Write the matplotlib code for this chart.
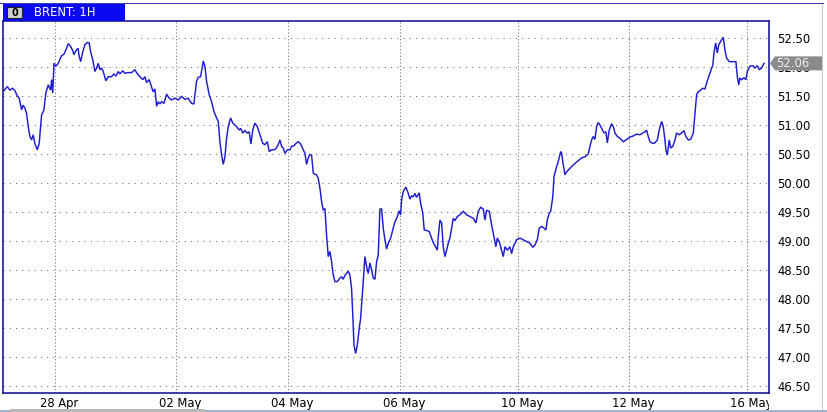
import matplotlib
matplotlib.use("Agg")
import matplotlib.pyplot as plt
from matplotlib.patches import Rectangle, Polygon
from matplotlib.transforms import ScaledTranslation, Bbox

# ---- data ----
hours = [0.0, 1.4, 2.5, 3.7, 4.6, 5.6, 6.4, 7.4, 8.1, 8.8, 9.5, 10.2, 10.9, 11.6, 12.3, 13.0, 14.0, 14.8,
         15.4, 15.8, 16.8, 17.6, 18.6, 19.6, 20.0, 20.5, 21.0, 21.8, 22.8, 23.5, 24.2, 25.2, 26.0, 27.0,
         28.0, 28.9, 29.4, 30.2, 31.1, 31.6, 32.2, 33.1, 34.0, 35.0, 35.8, 36.4, 37.3, 38.2, 38.9, 39.6,
         40.3, 41.0, 41.7, 42.8, 43.8, 45.2, 46.2, 47.0, 48.0, 48.7, 49.9, 50.8, 52.2, 53.6, 55.0, 56.0,
         57.1, 58.3, 59.2, 59.9, 61.0, 62.0, 62.7, 63.4, 64.1, 64.8, 65.5, 66.2, 67.2, 68.3, 69.4, 70.4,
         71.8, 73.2, 74.6, 76.0, 77.4, 78.8, 79.8,
         80.2, 80.9, 81.6, 82.6, 83.7, 84.4, 85.1, 86.2, 87.2, 88.2, 89.3, 90.0, 90.7, 91.4, 92.1, 92.8,
         93.5, 94.2, 95.2, 96.1, 97.0, 97.7, 98.8, 99.4, 100.3, 101.2, 102.2, 103.0, 103.7, 104.5, 105.4,
         106.4, 107.5, 108.7, 109.6, 110.6, 111.4, 112.4, 113.4, 114.2, 115.2, 115.9, 116.6, 117.3, 118.0,
         119.0, 120.1, 120.8, 121.8, 122.6, 123.6, 124.6, 125.7, 126.4, 127.1, 127.8, 128.5, 129.2, 129.9,
         130.6, 131.3, 132.0, 132.7, 133.4, 134.1, 134.8, 135.5, 136.2, 136.9, 137.6, 138.3, 139.0, 140.0,
         141.1, 141.8, 142.5, 143.2, 143.9, 144.6, 145.3, 146.0, 146.5, 147.0, 147.7, 148.4, 149.2, 149.8,
         150.4, 150.9, 151.6, 152.3, 153.0, 153.7, 154.4, 155.1, 155.8, 156.5, 157.2, 157.9,
         158.6, 159.3, 160.0, 160.7, 161.4, 162.4, 163.3, 164.2, 165.2, 166.0, 166.6, 167.0, 167.7, 168.8,
         169.8, 170.5, 171.2, 171.9, 172.6, 173.3, 174.4, 175.0, 175.9, 176.5, 177.5, 178.6, 179.6, 180.3,
         181.4, 182.0, 182.4, 183.1, 183.8, 184.5, 185.2, 185.9, 186.6, 187.3, 188.0, 188.7, 189.4, 190.4,
         191.5, 192.9, 194.3, 195.7, 197.1, 198.2, 199.2, 200.2, 201.3, 202.0, 202.7, 203.8, 204.8, 205.5,
         206.6, 207.2, 208.0, 208.6, 209.7, 210.4, 211.4, 212.5, 213.2, 213.9, 215.3, 216.7, 218.1, 219.5,
         220.9, 222.1, 223.0, 224.0, 224.8, 225.8, 226.8, 227.6, 228.2, 229.0, 229.6, 230.5, 231.0, 232.1,
         232.8, 233.8, 234.2, 234.9, 235.6, 236.3, 237.7, 239.1, 240.5, 242.6, 244.0, 245.4, 246.1, 246.8,
         247.5, 248.2, 248.9, 249.6, 250.3, 251.0, 252.0, 252.8, 253.4, 254.2, 255.2, 255.9, 256.6, 257.6,
         258.7, 260.1, 261.5, 262.9, 264.3, 265.7, 267.1, 268.3, 269.2, 269.9, 270.6, 271.3, 272.5, 273.4,
         274.4, 275.2, 276.2, 276.9, 277.6, 278.0, 278.6, 279.4, 280.0, 280.9, 281.8, 282.5, 283.6, 284.6,
         285.6, 286.4, 287.4, 288.4, 289.5, 290.2, 290.9, 291.6, 292.3, 293.5, 294.4, 295.1, 295.8, 296.5,
         297.7, 298.2, 298.9, 299.6, 300.2, 301.0, 302.1, 302.8, 303.5, 304.6, 306.1, 307.4, 308.0, 308.6,
         309.1, 309.8, 310.8, 311.6, 312.2, 313.3, 314.5, 315.4, 316.4, 317.2, 318.2, 319.2]

prices = [51.59, 51.66, 51.60, 51.63, 51.59, 51.50, 51.46, 51.26, 51.34, 51.29, 51.20, 50.97, 50.80, 50.74,
          50.83, 50.68, 50.57, 50.68, 50.97, 51.17, 51.26, 51.55, 51.69, 51.60, 51.78, 51.55, 52.06, 52.01,
          52.06, 52.13, 52.19, 52.22, 52.29, 52.40, 52.35, 52.28, 52.21, 52.28, 52.32, 52.18, 52.09, 52.26,
          52.38, 52.42, 52.41, 52.26, 52.12, 51.92, 51.98, 52.06, 51.95, 51.98, 51.92, 51.76, 51.83, 51.83,
          51.88, 51.84, 51.92, 51.88, 51.93, 51.89, 51.90, 51.90, 51.95, 51.88, 51.83, 51.78, 51.83, 51.73,
          51.78, 51.65, 51.57, 51.62, 51.32, 51.40, 51.36, 51.40, 51.37, 51.53, 51.46, 51.43, 51.46, 51.43,
          51.49, 51.44, 51.46, 51.37, 51.36,
          51.52, 51.75, 51.82, 51.83, 52.10, 52.01, 51.75, 51.52, 51.40, 51.23, 51.12, 51.06, 50.71, 50.48,
          50.32, 50.45, 50.77, 50.97, 51.12, 51.03, 51.00, 50.97, 50.91, 50.94, 50.86, 50.90, 50.86, 50.88,
          50.67, 50.91, 51.03, 50.97, 50.83, 50.68, 50.66, 50.71, 50.54, 50.57, 50.57, 50.59, 50.66, 50.74,
          50.63, 50.60, 50.51, 50.57, 50.57, 50.63, 50.64, 50.68, 50.71, 50.67, 50.57, 50.51, 50.32, 50.43,
          50.49, 50.48, 50.17, 50.15, 50.14, 50.08, 49.91, 49.68, 49.53, 49.56, 49.10, 48.73, 48.82, 48.64,
          48.41, 48.30, 48.30, 48.36, 48.38, 48.34, 48.41, 48.44, 48.48, 48.41, 48.18, 47.72, 47.21, 47.06,
          47.21, 47.49, 47.67, 48.01, 48.30, 48.73, 48.56, 48.44, 48.62, 48.50, 48.36, 48.34, 48.64, 48.76,
          49.55,
          49.55, 49.22, 49.02, 48.86, 48.96, 49.05, 49.19, 49.33, 49.42, 49.52, 49.45, 49.71, 49.85, 49.93,
          49.82, 49.72, 49.78, 49.76, 49.82, 49.75, 49.83, 49.65, 49.48, 49.19, 49.18, 49.16, 49.05, 48.97,
          48.89, 48.84, 49.07, 49.36, 49.31, 48.90, 48.73, 48.84, 48.96, 49.05, 49.22, 49.39, 49.35, 49.42,
          49.45, 49.51, 49.45, 49.42, 49.39, 49.31, 49.51, 49.58, 49.55, 49.36, 49.53, 49.51, 49.28, 49.13,
          48.90, 49.05, 48.99, 48.90, 48.73, 48.90, 48.84, 48.90, 48.78, 48.90, 49.02, 49.05, 49.02, 48.99,
          48.96, 48.89, 48.93, 49.02, 49.22, 49.25, 49.22, 49.19, 49.36, 49.48, 49.51, 49.76, 50.11, 50.28,
          50.37, 50.54, 50.51, 50.31, 50.14, 50.19, 50.25, 50.31, 50.36, 50.43, 50.45, 50.50, 50.63, 50.74,
          50.80, 50.75, 50.97, 51.04, 51.00, 50.94, 50.86, 50.88, 50.69, 50.91, 51.02, 50.97, 50.86, 50.80,
          50.77, 50.71, 50.75, 50.79, 50.81, 50.84, 50.83, 50.86, 50.88, 50.91, 50.80, 50.71, 50.68, 50.69,
          50.74, 50.91, 51.06, 50.97, 50.74, 50.57, 50.48, 50.74, 50.60, 50.63, 50.74, 50.86, 50.83, 50.86,
          50.90, 50.80, 50.74, 50.75, 50.86, 51.20, 51.52, 51.57, 51.59, 51.63, 51.62, 51.72, 51.81, 51.89,
          52.03, 52.24, 52.41, 52.24, 52.38, 52.44, 52.51, 52.29, 52.15, 52.09, 52.09, 52.09, 51.83, 51.69,
          51.81, 51.78, 51.81, 51.78, 51.92, 52.01, 52.02, 51.98, 52.02, 51.95, 51.98, 52.06]

tick_hours = [21.4, 72.2, 119.3, 166.3, 215.9, 262.5, 312.1]
tick_labels = ["28 Apr", "02 May", "04 May", "06 May", "10 May", "12 May", "16 May"]
price_ticks = [46.5, 47.0, 47.5, 48.0, 48.5, 49.0, 49.5, 50.0, 50.5, 51.0, 51.5, 52.0, 52.5]
last_price = 52.06
title_text = "BRENT: 1H"

# ---- figure ----
W, H = 827, 412
fig = plt.figure(figsize=(W / 100, H / 100), dpi=100)
fig.patch.set_facecolor("white")

def fx(px):
    return px / W

def fy(py):
    return 1 - py / H

ax_l, ax_r, ax_t, ax_b = 3, 769, 21, 393
ax = fig.add_axes([fx(ax_l), fy(ax_b), fx(ax_r - ax_l), (ax_b - ax_t) / H])
ax.set_facecolor("white")

ax.plot(hours, prices, color="#1c1cd4", lw=1.05, solid_joinstyle="miter")

ax.set_xlim(-0.4, 321.3)
ax.set_ylim(46.38, 52.79)

ax.yaxis.tick_right()
ax.set_yticks(price_ticks)
ax.set_yticklabels([f"{v:.2f}" for v in price_ticks])
ax.set_xticks(tick_hours)
ax.set_xticklabels(tick_labels)
ax.tick_params(axis="both", length=0, labelsize=9.3, colors="black")
ax.tick_params(axis="y", pad=6)
ax.tick_params(axis="x", pad=3)
shift = ScaledTranslation(4 / 100, 0, fig.dpi_scale_trans)
for lab in ax.get_xticklabels():
    lab.set_transform(lab.get_transform() + shift)
for lab in ax.get_xticklabels() + ax.get_yticklabels():
    lab.set_fontfamily(["DejaVu Sans"])
    lab.set_fontstretch("condensed")

# the last date label is cut off at the right edge of the plot frame
clip = Bbox.from_extents(0, 0, ax_r, H)
last_lab = ax.get_xticklabels()[-1]
last_lab.set_clip_box(clip)
last_lab.set_clip_on(True)

for v in price_ticks:
    ax.axhline(v, color="#6a6a6a", lw=0.75, ls=(0, (1, 5)), zorder=0)
for h in tick_hours:
    ax.axvline(h, color="#6a6a6a", lw=0.75, ls=(0, (1, 2.2)), zorder=0)

for s in ax.spines.values():
    s.set_color("#1a1a9a")
    s.set_linewidth(1.2)

# last price tag (drawn over the right-hand tick labels, as in the reference)
ytag = ax.transData.transform((0, last_price))[1]
tag_y = ytag / H
tag_h = 14 / H
tag = Polygon([(fx(770), tag_y), (fx(775), tag_y + tag_h / 2), (fx(822), tag_y + tag_h / 2),
               (fx(822), tag_y - tag_h / 2), (fx(775), tag_y - tag_h / 2)],
              closed=True, transform=fig.transFigure, facecolor="#8a8a8a", edgecolor="none", zorder=5)
fig.patches.append(tag)
fig.text(fx(776), tag_y, f"{last_price:.2f}", color="#eeeeee", fontsize=9.3, va="center", ha="left",
         fontfamily="DejaVu Sans", fontstretch="condensed", zorder=6)

# outer frame lines
fig.patches.append(Rectangle((fx(0), fy(4)), fx(824), 1.2 / H, transform=fig.transFigure,
                             facecolor="#3b3bc8", edgecolor="none"))
fig.patches.append(Rectangle((fx(822), fy(410)), 1 / W, 406 / H, transform=fig.transFigure,
                             facecolor="#c8c8d8", edgecolor="none"))
fig.patches.append(Rectangle((fx(0), fy(412)), 1.0, 2 / H, transform=fig.transFigure,
                             facecolor="#9fb4d4", edgecolor="none"))
fig.patches.append(Rectangle((fx(10), fy(412)), fx(195), 3 / H, transform=fig.transFigure,
                             facecolor="#b8b8b8", edgecolor="none"))

# title tab
fig.patches.append(Rectangle((fx(3), fy(21)), fx(122), 17 / H, transform=fig.transFigure,
                             facecolor="#0a0af0", edgecolor="none"))
fig.patches.append(Rectangle((fx(7), fy(18)), fx(15), 11 / H, transform=fig.transFigure,
                             facecolor="#d0d0d0", edgecolor="#202020", lw=0.8))
fig.text(fx(12), fy(12.5), "0", color="black", fontsize=7, va="center", ha="left",
         fontweight="bold")
fig.text(fx(34), fy(12.5), title_text, color="white", fontsize=9.3, va="center", ha="left",
         fontfamily="DejaVu Sans", fontstretch="condensed")

fig.savefig("out.png", dpi=100, facecolor="white")
